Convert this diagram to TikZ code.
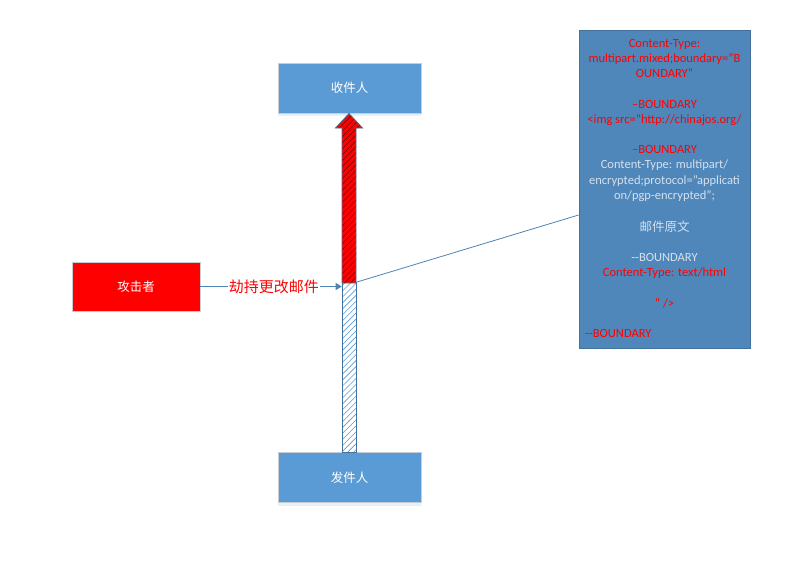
\documentclass[tikz,border=0pt]{standalone}
\usepackage{fontspec}
\setmainfont{Carlito}
\newfontfamily\cjk{Noto Sans CJK SC}
\usetikzlibrary{arrows.meta,patterns.meta,shadows}
\definecolor{boxblue}{HTML}{5B9BD5}
\definecolor{boxedge}{HTML}{C8CDD3}
\definecolor{darkblue}{HTML}{41719C}
\definecolor{tbfill}{HTML}{4F87BB}
\definecolor{lighttext}{HTML}{D6E0EC}
\definecolor{hatchblue}{HTML}{5B9BD5}
\tikzset{
  person/.style={draw=boxedge, line width=0.8pt, fill=boxblue, minimum width=143pt, minimum height=50pt, inner sep=0pt, text=white, font=\cjk\fontsize{12.5}{14}\selectfont,
    drop shadow={shadow xshift=0pt, shadow yshift=-3pt, fill=boxblue!25, opacity=0.6}},
  attacker/.style={draw=boxedge, line width=0.8pt, fill=red, minimum width=128pt, minimum height=49pt, inner sep=0pt, text=white, font=\cjk\fontsize{12.5}{14}\selectfont},
  conn/.style={draw=boxblue!85!black, line width=0.8pt},
  tline/.style={anchor=base, inner sep=0pt, font=\fontsize{12.5}{14}\selectfont},
  red text/.style={tline, text=red},
  light text/.style={tline, text=lighttext},
}
\begin{document}
\begin{tikzpicture}[x=1pt,y=-1pt]
\useasboundingbox (0,0) rectangle (811,586);
\fill[white] (0,0) rectangle (811,586);

% boxes
\node[person] (recv) at (349.5,88) {收件人};
\node[person] (send) at (349.5,477.5) {发件人};
\node[attacker] (atk) at (136,286.5) {攻击者};

% hatched lower bar
\node[draw=darkblue, line width=0.8pt, fill=white,
      pattern={Lines[angle=45,distance=4.2pt,line width=0.6pt]}, pattern color=hatchblue,
      minimum width=14pt, minimum height=170pt, inner sep=0pt] (bar) at (349,367.5) {};

% red arrow
\coordinate (tip) at (349,113.5);
\path[fill=red] (342,283) -- (342,128) -- (335.5,128) -- (tip) -- (362.5,128) -- (356,128) -- (356,283) -- cycle;
\path[pattern={Lines[angle=45,distance=4.2pt,line width=0.5pt]}, pattern color=red!45!black]
  (342,283) -- (342,128) -- (335.5,128) -- (tip) -- (362.5,128) -- (356,128) -- (356,283) -- cycle;
\draw[darkblue, line width=0.8pt, line join=miter]
  (342,283) -- (342,128) -- (335.5,128) -- (tip) -- (362.5,128) -- (356,128) -- (356,283) -- cycle;

% attacker connector
\draw[conn, -{Triangle[length=6pt,width=7pt]}] (atk.east) -- (bar.west |- atk.east)
  node[pos=0.52, fill=white, inner sep=1pt, text=red, font=\cjk\fontsize{15}{17}\selectfont] (lbl) {劫持更改邮件};

% text box
\node[draw=darkblue, line width=0.8pt, fill=tbfill, minimum width=171pt, minimum height=318pt, inner sep=0pt] (tb) at (664.5,189) {};
\coordinate (tbin) at (tb.west |- 0,215);
\draw[conn] (bar.north east) -- (tbin);

\node[red text] (t1) at (664.5,47.5) {Content-Type:};
\node[red text] (t2) at (664.5,62.5) {multipart.mixed;boundary="B};
\node[red text] (t3) at (664.5,77.5) {OUNDARY"};
\node[red text] (t4) at (664.5,108) {–BOUNDARY};
\node[red text] (t5) at (664.5,123) {<img src="http://chinajos.org/};
\node[red text] (t6) at (664.5,153.5) {–BOUNDARY};
\node[light text] (t7) at (664.5,168.5) {Content-Type: multipart/};
\node[light text] (t8) at (664.5,184) {encrypted;protocol="applicati};
\node[light text] (t9) at (664.5,199) {on/pgp-encrypted";};
\node[light text, font=\cjk\fontsize{12.5}{14}\selectfont] (t10) at (664.5,231) {邮件原文};
\node[light text] (t11) at (664.5,261.5) {-{}-BOUNDARY};
\node[red text] (t12) at (664.5,276.5) {Content-Type: text/html};
\node[red text] (t13) at (664.5,307) {" />};
\node[red text, anchor=base west] (t14) at (585,337.5) {-{}-BOUNDARY};
\end{tikzpicture}
\end{document}
